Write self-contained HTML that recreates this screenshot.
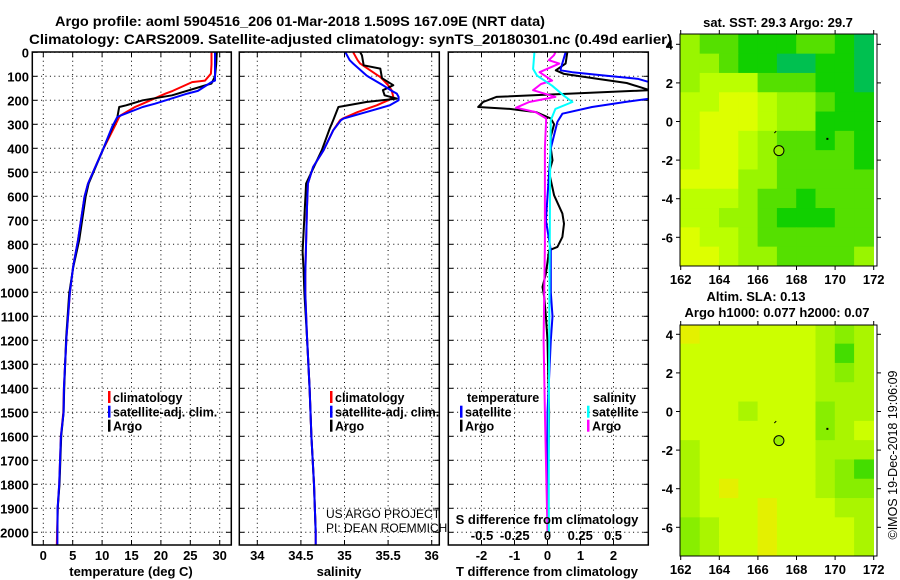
<!DOCTYPE html>
<html><head><meta charset="utf-8"><style>
html,body{margin:0;padding:0;background:#fff;}
svg{display:block;font-family:"Liberation Sans",sans-serif;}
.b{font-weight:bold;}
</style></head><body>
<svg id="chart" width="900" height="580" viewBox="0 0 900 580" xmlns="http://www.w3.org/2000/svg">
<defs>
<clipPath id="c1"><rect x="32" y="52" width="200" height="493"/></clipPath>
<clipPath id="c2"><rect x="239" y="52" width="200" height="493"/></clipPath>
<clipPath id="c3"><rect x="448" y="52" width="200" height="493"/></clipPath>
</defs>
<text class="b" x="55" y="26" font-size="14" textLength="490" lengthAdjust="spacingAndGlyphs">Argo profile: aoml 5904516_206 01-Mar-2018 1.509S 167.09E (NRT data)</text>
<text class="b" x="29" y="44" font-size="14" textLength="643" lengthAdjust="spacingAndGlyphs">Climatology: CARS2009. Satellite-adjusted climatology: synTS_20180301.nc (0.49d earlier)</text>
<g id="layer"></g>
</svg>
<script>
// ---- data ----
const tempDepth = [0,50,89,118,124,161,172,214,228,262,269,311,408,547,602,783,894,1005,1186,1400,1500,1600,1800,1900,2000,2054];
const tempClim  = [28.6,28.6,28.5,27.5,25.3,22,20.8,16.9,15.6,13.2,12.9,12.1,10.1,7.6,7.0,5.9,5.06,4.5,3.95,3.5,3.4,3.0,2.7,2.45,2.35,2.3];
const tempSat   = [29.2,29.2,29.2,29.2,28.6,26.3,24.5,19.0,16.9,13.3,12.6,11.7,10.1,7.6,7.0,5.9,5.06,4.5,3.95,3.5,3.45,3.0,2.7,2.43,2.4,2.4];
const tempArgoDepth = [0,50,100,130,179,200,221,228,269,311,408,547,602,783,894,1005,1186,1400,1500,1600,1800,1900,2000];
const tempArgo  = [29.5,29.4,29.2,28.6,21.9,16.9,14.1,12.9,12.6,11.8,10.1,7.7,7.2,6.1,5.1,4.4,3.9,3.55,3.45,3.05,2.75,2.45,2.4];

const salDepth = [0,33,47,96,103,137,158,172,186,200,221,249,276,283,325,408,478,547,644,922,1005,1186,1400,1600,1800,2000,2054];
const salClim  = [35.1,35.15,35.18,35.38,35.41,35.5,35.54,35.55,35.56,35.5,35.37,35.15,34.98,34.95,34.87,34.76,34.64,34.58,34.57,34.55,34.55,34.57,34.6,34.62,34.65,34.67,34.67];
const salSat   = [35.01,35.06,35.1,35.25,35.28,35.44,35.53,35.6,35.62,35.62,35.52,35.25,34.99,34.96,34.87,34.76,34.64,34.58,34.57,34.55,34.55,34.57,34.6,34.62,34.65,34.67,34.67];
const salArgoDepth = [0,12,54,68,108,137,158,179,193,207,228,283,318,408,547,830,900,1005,1186,1400,1600,1800,2000];
const salArgo  = [35.18,35.2,35.22,35.41,35.43,35.56,35.44,35.46,35.6,35.25,34.93,34.87,34.83,34.74,34.56,34.52,34.53,34.54,34.57,34.6,34.62,34.65,34.67];

const dTArgoDepth = [0,47,75,90,110,128,158,186,207,228,236,249,276,300,350,400,450,500,596,672,714,769,811,825,922,978,1019,1100,1200,1500,1800,2000];
const dTArgo = [0.6,0.55,0.25,0.5,1.5,2.4,3.1,-1.55,-1.95,-2.1,-1.15,-0.35,0.1,0.2,0.1,0.1,0.15,0.05,0.2,0.45,0.5,0.45,0.3,0.05,-0.05,-0.15,-0.1,-0.05,0,0.05,0.02,0];
const dTSatDepth = [0,69,75,83,97,111,125,193,207,228,256,290,400,600,700,825,1000,1100,1200,1500,2000];
const dTSat = [0.55,0.4,0.4,0.75,1.75,2.75,3.1,3.1,2.35,1.35,0.45,0.3,0.1,0,-0.05,0.1,0.1,0.15,0.1,0,0];
const dSArgoDepth = [0,12,33,47,83,118,132,158,186,207,231,249,276,400,800,1200,1500,2000];
const dSArgo = [0.06,0.05,0.01,0.09,-0.06,0.035,-0.05,-0.11,0.06,-0.14,-0.24,-0.09,-0.01,-0.02,-0.02,-0.03,-0.02,0];
const dSSatDepth = [0,69,97,139,181,207,236,283,500,1000,1500,2000];
const dSSat = [-0.1,-0.11,-0.08,0.035,0.125,0.19,0.06,0.025,0.02,0.015,0.01,0.01];

const depthTicks = [0,100,200,300,400,500,600,700,800,900,1000,1100,1200,1300,1400,1500,1600,1700,1800,1900,2000];
const tempTicks = [0,5,10,15,20,25,30];
const salTicks = [34,34.5,35,35.5,36];
const dTTicks = [-2,-1,0,1,2];
const dSTicks = [-0.5,-0.25,0,0.25,0.5];

const lonTicks = [162,164,166,168,170,172];
const latTicks = [4,2,0,-2,-4,-6];
// SST map (1-degree cells, rows from 4.5N southward, cols from 162E)
const sstGrid = [
[3,4,4,5,5,5,4,4,5,6],
[3,3,4,5,5,6,6,5,5,6],
[3,2,2,2,4,4,4,5,5,6],
[2,2,1,1,2,3,3,4,5,5],
[2,1,1,1,2,3,3,5,5,5],
[2,1,1,2,3,4,4,5,4,5],
[2,1,1,2,3,4,4,4,4,5],
[1,1,1,3,3,4,4,4,4,4],
[2,2,2,3,4,4,5,4,4,4],
[2,2,3,3,4,5,5,5,4,4],
[1,2,2,3,4,4,4,4,4,4],
[1,1,2,3,3,4,4,4,4,3]];
const slaGrid = [
[0,1,1,1,1,1,1,2,3,2],
[1,1,1,1,1,1,1,2,4,2],
[1,1,1,1,1,1,1,2,3,2],
[1,1,1,1,1,1,1,2,2,2],
[1,1,1,2,1,1,1,3,2,2],
[1,1,1,1,1,1,1,3,2,1],
[2,1,1,1,1,1,1,2,2,2],
[2,1,1,1,1,1,1,2,3,4],
[2,1,0,1,1,1,1,2,3,3],
[2,1,1,1,0,1,1,1,2,2],
[3,2,1,1,0,1,1,1,1,2],
[3,2,1,1,0,1,1,1,1,2]];
const floatLon = 167.09, floatLat = -1.509;

// ---- scales ----
const NS="http://www.w3.org/2000/svg";
const L=document.getElementById('layer');
const yD=d=>52.3+0.24*d;
const xT=t=>43.3+5.88*t;
const xS=s=>257.3+87.2*(s-34);
const xdT=d=>547.5+33*d;
const xdS=s=>547.5+131*s;
const mx=lon=>680.7+19.3*(lon-162);
const myTop=lat=>44.3+19.3*(4-lat);
const myBot=lat=>334.3+19.3*(4-lat);
function el(tag,attrs,parent){const e=document.createElementNS(NS,tag);for(const k in attrs)e.setAttribute(k,attrs[k]);(parent||L).appendChild(e);return e;}
function txt(s,x,y,size,anchor,bold,parent){const t=el('text',{x:x,y:y,'font-size':size,'text-anchor':anchor||'start'},parent);if(bold)t.setAttribute('font-weight','bold');t.textContent=s;return t;}

function panel(name,x0,x1,clip,xticks,xf){
  const g=el('g',{});
  
  
  depthTicks.forEach(d=>{
    const l=el('line',{x1:x0,x2:x1,y1:yD(d),y2:yD(d),stroke:'#000','stroke-width':1,'stroke-dasharray':'1,3.4'},g);
    
    
    el('line',{x1:x0,x2:x0+5,y1:yD(d),y2:yD(d),stroke:'#000'},g);
    el('line',{x1:x1-5,x2:x1,y1:yD(d),y2:yD(d),stroke:'#000'},g);
  });
  xticks.forEach(v=>{
    const l=el('line',{x1:xf(v),x2:xf(v),y1:52,y2:545,stroke:'#000','stroke-dasharray':'1,3.4'},g);
    
    
    el('line',{x1:xf(v),x2:xf(v),y1:540,y2:545,stroke:'#000'},g);
    el('line',{x1:xf(v),x2:xf(v),y1:52,y2:57,stroke:'#000'},g);
  });
  const pg=el('g',{'clip-path':'url(#'+clip+')'});
  const f=el('rect',{x:x0,y:52,width:x1-x0,height:493,fill:'none',stroke:'#000','stroke-width':1.5});
  
  
  return pg;
}
function line(g,name,depths,vals,xf,color,w){
  const pts=depths.map((d,i)=>xf(vals[i]).toFixed(1)+','+yD(d).toFixed(1)).join(' ');
  const p=el('polyline',{points:pts,fill:'none',stroke:color,'stroke-width':w||2,'stroke-linejoin':'round'},g);
  
  
}

// y-axis labels
depthTicks.forEach(d=>{const t=txt(String(d),29,yD(d)+5,13,'end',true);
  
  });

// panel 1
const g1=panel('temperature-panel',32.3,231.3,'c1',tempTicks,xT);
line(g1,'temperature-climatology-line',tempDepth,tempClim,xT,'#ff0000');
line(g1,'temperature-argo-line',tempArgoDepth,tempArgo,xT,'#000');
line(g1,'temperature-satellite-line',tempDepth,tempSat,xT,'#0000ff');
tempTicks.forEach(v=>{const t=txt(String(v),xT(v),560,13,'middle',true);});
{const t=txt('temperature (deg C)',131,576,13,'middle',true);}

// panel 2
const g2=panel('salinity-panel',239.3,439.3,'c2',salTicks,xS);
line(g2,'salinity-climatology-line',salDepth,salClim,xS,'#ff0000');
line(g2,'salinity-argo-line',salArgoDepth,salArgo,xS,'#000');
line(g2,'salinity-satellite-line',salDepth,salSat,xS,'#0000ff');
salTicks.forEach(v=>{const t=txt(String(v),xS(v),560,13,'middle',true);});
{const t=txt('salinity',339,576,13,'middle',true);}

// panel 3
const g3=panel('difference-panel',448.3,648.3,'c3',dTTicks,xdT);
line(g3,'t-diff-argo-line',dTArgoDepth,dTArgo,xdT,'#000');
line(g3,'t-diff-satellite-line',dTSatDepth,dTSat,xdT,'#0000ff');
line(g3,'s-diff-argo-line',dSArgoDepth,dSArgo,xdS,'#ff00ff');
line(g3,'s-diff-satellite-line',dSSatDepth,dSSat,xdS,'#00ffff');
dTTicks.forEach(v=>{const t=txt(String(v),xdT(v),560,13,'middle',true);});
dSTicks.forEach(v=>{const t=txt(String(v),xdS(v),540,13,'middle',true);});
{const t=txt('S difference from climatology',547,524,13,'middle',true);}
{const t=txt('T difference from climatology',547,576,13,'middle',true);}

// legends
function leg(x,y,color,label,name){
  const g=el('g',{});
  
  
  el('rect',{x:x,y:y-6,width:2.5,height:12,fill:color},g);
  const t=txt(label,x+5,y+5,12.5,'start',true,g);
  
  
}
leg(108,397,'#ff0000','climatology','legend-temp-climatology');
leg(108,411.7,'#0000ff','satellite-adj. clim.','legend-temp-satellite');
leg(108,425.7,'#000','Argo','legend-temp-argo');
leg(330,397,'#ff0000','climatology','legend-sal-climatology');
leg(330,411.7,'#0000ff','satellite-adj. clim.','legend-sal-satellite');
leg(330,425.7,'#000','Argo','legend-sal-argo');
{const t=txt('temperature',467,402,12.5,'start',true);}
{const t=txt('salinity',593,402,12.5,'start',true);}
leg(460,411.7,'#0000ff','satellite','legend-tdiff-satellite');
leg(460,425.7,'#000','Argo','legend-tdiff-argo');
leg(587,411.7,'#00ffff','satellite','legend-sdiff-satellite');
leg(587,425.7,'#ff00ff','Argo','legend-sdiff-argo');
{const t=txt('US ARGO PROJECT',326,518,12,'start',false);}
{const t=txt('PI: DEAN ROEMMICH',326,532,12,'start',false);}

// maps
const sstPal=['#ffdd00','#ddff00','#bbff00','#99f500','#55e000','#11d000','#00c050','#00aa99'];
const slaPal=['#e4f000','#ccff00','#aaf500','#88ee00','#44dd00'];
function map(name,grid,pal,my,top,bottom){
  const g=el('g',{});
  
  
  grid.forEach((row,r)=>row.forEach((v,c)=>{
    const lat=4.5-r;
    const y0=Math.max(top,my(lat)), y1=Math.min(bottom,my(lat-1));
    const cell=el('rect',{x:mx(162+c)-0.3,y:y0-0.3,width:19.9,height:y1-y0+0.6,fill:pal[v]},g);
    
    
  }));
  el('rect',{x:680,y:top,width:197,height:bottom-top,fill:'none',stroke:'#000','stroke-width':1},g);
  latTicks.forEach(v=>{el('line',{x1:676,x2:680,y1:my(v),y2:my(v),stroke:'#000'},g);el('line',{x1:877,x2:881,y1:my(v),y2:my(v),stroke:'#000'},g);
    const t=txt(String(v),673,my(v)+5,13,'end',true,g);});
  lonTicks.forEach(v=>{el('line',{x1:mx(v),x2:mx(v),y1:bottom,y2:bottom+4,stroke:'#000'},g);el('line',{x1:mx(v),x2:mx(v),y1:top-4,y2:top,stroke:'#000'},g);
    const t=txt(String(v),mx(v),bottom+18,13,'middle',true,g);});
  const c=el('circle',{cx:mx(floatLon),cy:my(floatLat),r:5,fill:'#99ee00',stroke:'#000','stroke-width':1},g);
  
  
  el('rect',{x:mx(169.6)-1,y:my(-0.9)-1,width:2,height:2,fill:'#000'},g);
  el('line',{x1:mx(166.85),y1:my(-0.6),x2:mx(166.95),y2:my(-0.5),stroke:'#000','stroke-width':1},g);
}
map('sst-map',sstGrid,sstPal,myTop,34,266);
map('sla-map',slaGrid,slaPal,myBot,325,556);
{const t=txt('sat. SST: 29.3 Argo: 29.7',778,27,13,'middle',true);}
{const t=txt('Altim. SLA: 0.13',756,301,13,'middle',true);}
{const t=txt('Argo h1000: 0.077 h2000: 0.07',777,317,13,'middle',true);}
{const t=txt('\u00a9IMOS 19-Dec-2018 19:06:09',0,0,12.5,'middle',false);t.setAttribute('transform','translate(897,455) rotate(-90)');}
</script>
</body></html>
